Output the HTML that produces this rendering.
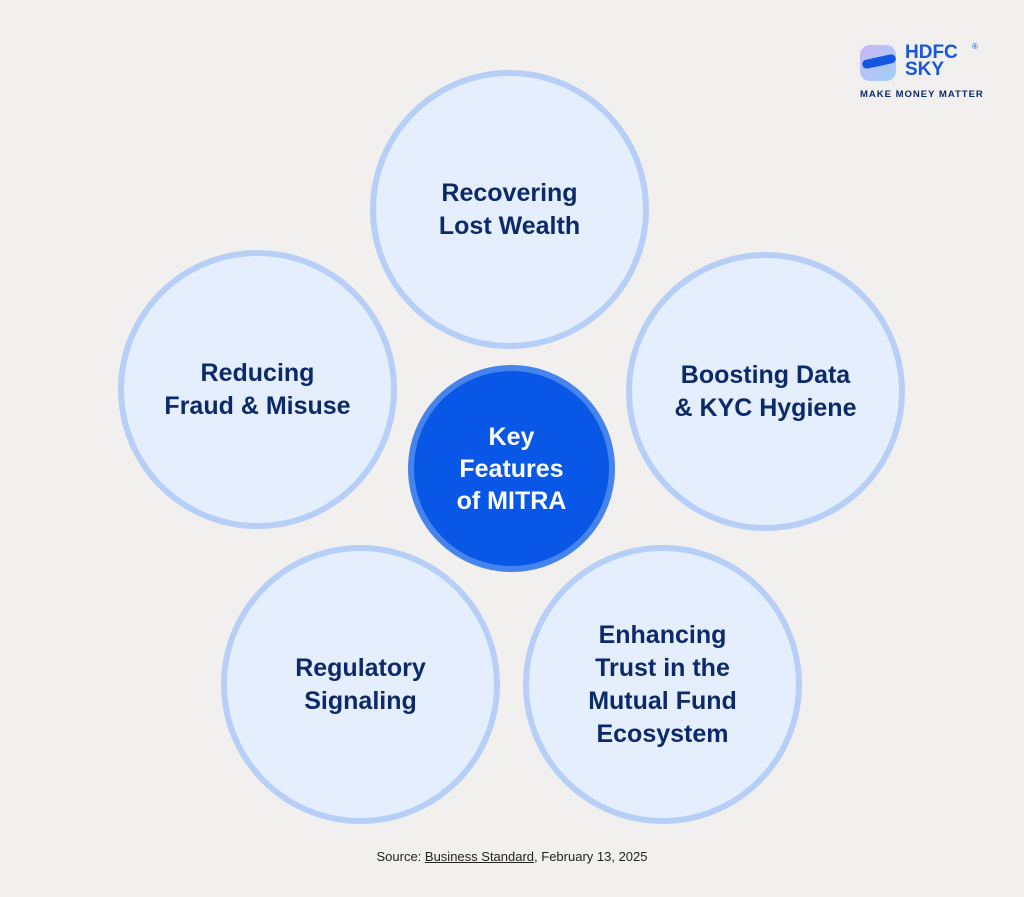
<!DOCTYPE html>
<html><head><style>
body{margin:0;width:1024px;height:897px;background:#f1f0ee;position:relative;overflow:hidden;font-family:"Liberation Sans",sans-serif}
.c{position:absolute;border-radius:50%;box-sizing:border-box;display:flex;align-items:center;justify-content:center;text-align:center;font-weight:bold}
.o{width:279px;height:279px;background:#e4eefd;border:6px solid #b7cff7;color:#0c2a6a;font-size:25px;line-height:33px}
.m{left:408px;top:365px;width:207px;height:207px;background:#0857e6;border:6px solid #4683ec;color:#fff;font-size:25px;line-height:32px}
</style></head><body>
<div class="c o" style="left:370px;top:70px">Recovering<br>Lost Wealth</div>
<div class="c o" style="left:118px;top:250px">Reducing<br>Fraud &amp; Misuse</div>
<div class="c o" style="left:626px;top:252px">Boosting Data<br>&amp; KYC Hygiene</div>
<div class="c o" style="left:221px;top:545px">Regulatory<br>Signaling</div>
<div class="c o" style="left:523px;top:545px">Enhancing<br>Trust in the<br>Mutual Fund<br>Ecosystem</div>
<div class="c m">Key<br>Features<br>of MITRA</div>
<div style="position:absolute;left:860px;top:45px;width:36px;height:36px;border-radius:10px;background:linear-gradient(135deg,#c9b8f5,#9fd0f7)"></div>
<div style="position:absolute;left:862px;top:57px;width:34px;height:9px;background:#1456e0;border-radius:5px;transform:rotate(-12deg)"></div>
<div style="position:absolute;left:905px;top:44px;color:#1b55d8;font-weight:bold;font-size:19px;line-height:17px">HDFC<br>SKY</div>
<div style="position:absolute;left:972px;top:42px;color:#1b55d8;font-size:8px">®</div>
<div style="position:absolute;left:860px;top:89px;color:#0c2a6a;font-weight:bold;font-size:9.5px;letter-spacing:1px">MAKE MONEY MATTER</div>
<div style="position:absolute;left:0;width:1024px;top:849px;text-align:center;font-size:13px;color:#222">Source: <span style="text-decoration:underline">Business Standard</span>, February 13, 2025</div>
</body></html>
